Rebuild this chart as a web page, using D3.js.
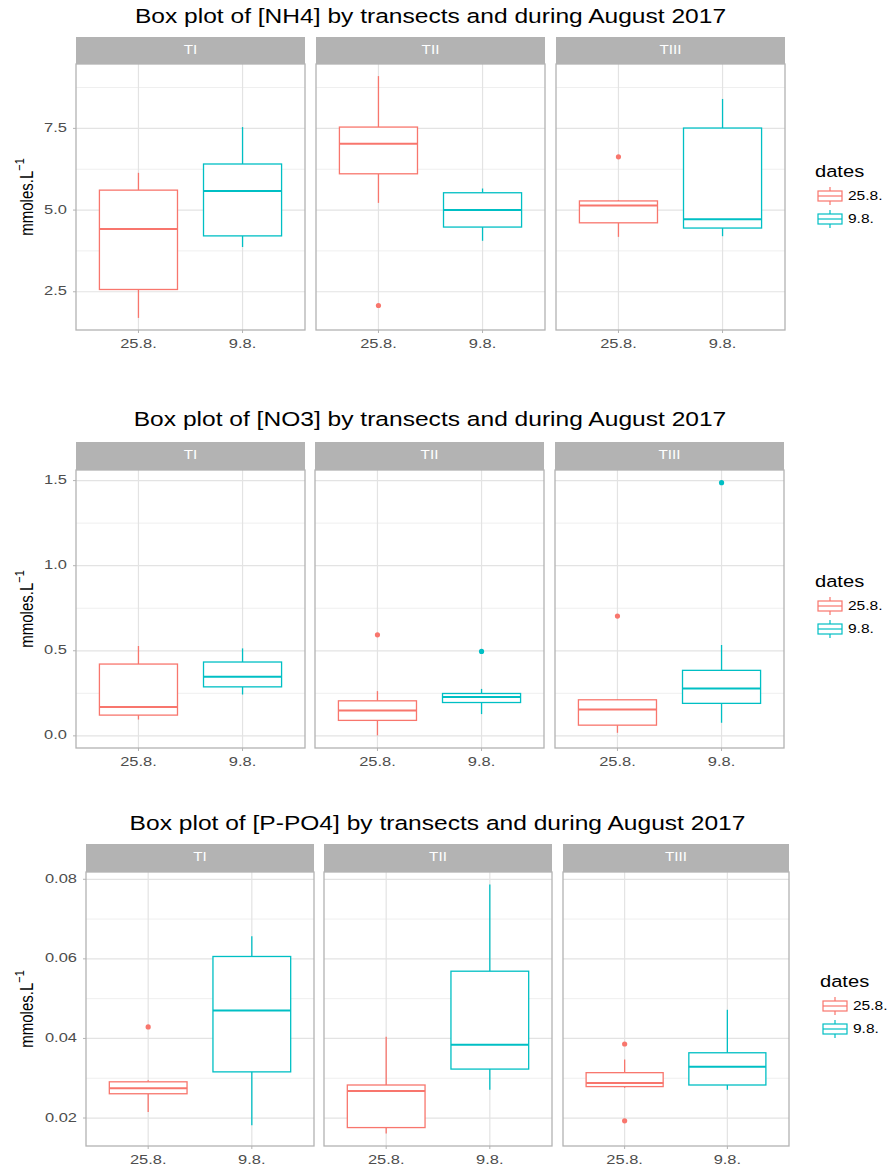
<!DOCTYPE html>
<html>
<head>
<meta charset="utf-8">
<script src="https://cdn.jsdelivr.net/npm/d3@7"></script>
<style>
  body { margin: 0; background: #fff; }
  text { font-family: "Liberation Sans", Arial, sans-serif; }
</style>
</head>
<body>
<script>
const transects = ["TI", "TII", "TIII"];
const dates = ["25.8.", "9.8."];
const colors = ["#F8766D", "#00BFC4"];

// [transect, date, whiskerLow, q1, median, q3, whiskerHigh, outliers]
const nh4Stats = [
  ["TI", "25.8.", 1.70, 2.57, 4.42, 5.61, 6.14, []],
  ["TI", "9.8.", 3.87, 4.21, 5.58, 6.41, 7.54, []],
  ["TII", "25.8.", 5.22, 6.11, 7.03, 7.54, 9.10, [2.08]],
  ["TII", "9.8.", 4.06, 4.48, 5.00, 5.53, 5.66, []],
  ["TIII", "25.8.", 4.18, 4.61, 5.14, 5.28, 5.31, [6.63]],
  ["TIII", "9.8.", 4.20, 4.45, 4.72, 7.51, 8.40, []]
];
const no3Stats = [
  ["TI", "25.8.", 0.096, 0.122, 0.169, 0.422, 0.528, []],
  ["TI", "9.8.", 0.243, 0.288, 0.347, 0.434, 0.514, []],
  ["TII", "25.8.", 0.003, 0.091, 0.149, 0.206, 0.263, [0.594]],
  ["TII", "9.8.", 0.128, 0.196, 0.229, 0.249, 0.276, [0.496]],
  ["TIII", "25.8.", 0.018, 0.063, 0.155, 0.212, 0.216, [0.704]],
  ["TIII", "9.8.", 0.077, 0.191, 0.279, 0.385, 0.534, [1.488]]
];
const po4Stats = [
  ["TI", "25.8.", 0.0215, 0.0261, 0.0275, 0.0291, 0.0295, [0.0429]],
  ["TI", "9.8.", 0.0182, 0.0316, 0.0470, 0.0606, 0.0657, []],
  ["TII", "25.8.", 0.0161, 0.0176, 0.0268, 0.0283, 0.0404, []],
  ["TII", "9.8.", 0.0271, 0.0323, 0.0384, 0.0569, 0.0787, []],
  ["TIII", "25.8.", 0.0276, 0.0279, 0.0288, 0.0314, 0.0347, [0.0386, 0.0193]],
  ["TIII", "9.8.", 0.0271, 0.0283, 0.0329, 0.0364, 0.0472, []]
];

const nh4Ticks = [2.5, 5.0, 7.5];
const no3Ticks = [0.0, 0.5, 1.0, 1.5];
const po4Ticks = [0.02, 0.04, 0.06, 0.08];

const charts = [
  { title: "Box plot of [NH4] by transects and during August 2017", stats: nh4Stats, ticks: nh4Ticks, fmt: d3.format(".1f"),
    titleY: 18, stripTop: 37, top: 64, bottom: 330,
    panels: [[76, 305], [316, 545], [556, 785]], legX: 815, legY: 173 },
  { title: "Box plot of [NO3] by transects and during August 2017", stats: no3Stats, ticks: no3Ticks, fmt: d3.format(".1f"),
    titleY: 421, stripTop: 442, top: 470, bottom: 748,
    panels: [[76, 305], [315, 544], [555, 784]], legX: 815, legY: 583 },
  { title: "Box plot of [P-PO4] by transects and during August 2017", stats: po4Stats, ticks: po4Ticks, fmt: d3.format(".2f"),
    titleY: 825, stripTop: 844, top: 872, bottom: 1146,
    panels: [[86, 314], [324, 552], [563, 789]], legX: 820, legY: 983 }
];

const svg = d3.select("body").append("svg")
  .attr("width", 888).attr("height", 1171);

// the source picture is stretched sideways, so text is widened a bit
function label(sel, x, y, str, size, opts = {}) {
  const sc = opts.rotate ? `rotate(-90) scale(1,${opts.sx || 1.2})` : `scale(${opts.sx || 1.22},1)`;
  return sel.append("text")
    .attr("transform", `translate(${x},${y}) ${sc}`)
    .attr("text-anchor", opts.anchor || "middle")
    .attr("dominant-baseline", "middle")
    .style("font-size", size + "px")
    .style("fill", opts.fill || "#000")
    .text(str);
}

charts.forEach(c => drawChart(c));

function drawChart(c) {
  const g = svg.append("g");
  const lo = d3.min(c.stats, d => d3.min([d[2], ...d[7]]));
  const hi = d3.max(c.stats, d => d3.max([d[6], ...d[7]]));
  const pad = (hi - lo) * 0.05;
  const y = d3.scaleLinear().domain([lo - pad, hi + pad]).range([c.bottom, c.top]);
  const step = c.ticks[1] - c.ticks[0];
  const minor = [c.ticks[0] - step / 2, ...c.ticks.map(t => t + step / 2)];

  const left = c.panels[0][0], right = c.panels[2][1];

  // title
  label(g, (left + right) / 2, c.titleY, c.title, 19.5, { sx: 1.26 });

  // y axis title, rotated
  const yt = label(g, 28, (c.top + c.bottom) / 2, "mmoles.L", 15, { rotate: true, sx: 1.22 });
  yt.append("tspan").attr("dy", -6).style("font-size", "11px").text("−1");

  // y ticks
  c.ticks.forEach(t => {
    if (y(t) < c.top || y(t) > c.bottom) return;
    label(g, left - 9, y(t), c.fmt(t), 13.5, { anchor: "end", fill: "#4D4D4D" });
    g.append("line").attr("x1", left - 3).attr("x2", left).attr("y1", y(t)).attr("y2", y(t))
      .style("stroke", "#B3B3B3");
  });

  transects.forEach((tr, i) => {
    const [x0, x1] = c.panels[i];
    const x = d3.scalePoint().domain(dates).range([x0, x1]).padding(0.6);
    const bw = x.step() * 0.75;
    const p = g.append("g");

    // strip
    p.append("rect").attr("x", x0).attr("y", c.stripTop).attr("width", x1 - x0).attr("height", c.top - c.stripTop)
      .style("fill", "#B3B3B3");
    label(p, (x0 + x1) / 2, (c.stripTop + c.top) / 2, tr, 12.5, { fill: "#fff" });

    // grid
    p.selectAll("line.minor").data(minor.filter(v => y(v) > c.top && y(v) < c.bottom)).join("line")
      .attr("class", "minor").attr("x1", x0).attr("x2", x1).attr("y1", d => y(d)).attr("y2", d => y(d))
      .style("stroke", "#EFEFEF").style("stroke-width", 1);
    p.selectAll("line.major").data(c.ticks.filter(v => y(v) > c.top && y(v) < c.bottom)).join("line")
      .attr("class", "major").attr("x1", x0).attr("x2", x1).attr("y1", d => y(d)).attr("y2", d => y(d))
      .style("stroke", "#E3E3E3").style("stroke-width", 1.2);
    p.selectAll("line.vgrid").data(dates).join("line")
      .attr("class", "vgrid").attr("x1", d => x(d)).attr("x2", d => x(d)).attr("y1", c.top).attr("y2", c.bottom)
      .style("stroke", "#E3E3E3").style("stroke-width", 1.2);

    // boxes
    c.stats.filter(d => d[0] === tr).forEach(d => {
      const cx = x(d[1]);
      const col = colors[dates.indexOf(d[1])];
      const b = p.append("g").style("stroke", col).style("fill", "none");
      b.append("line").attr("x1", cx).attr("x2", cx).attr("y1", y(d[6])).attr("y2", y(d[5])).style("stroke-width", 1.3);
      b.append("line").attr("x1", cx).attr("x2", cx).attr("y1", y(d[3])).attr("y2", y(d[2])).style("stroke-width", 1.3);
      b.append("rect").attr("x", cx - bw / 2).attr("y", y(d[5])).attr("width", bw).attr("height", y(d[3]) - y(d[5]))
        .style("fill", "#fff").style("stroke-width", 1.3);
      b.append("line").attr("x1", cx - bw / 2).attr("x2", cx + bw / 2).attr("y1", y(d[4])).attr("y2", y(d[4]))
        .style("stroke-width", 2);
      p.selectAll(null).data(d[7]).join("circle")
        .attr("cx", cx).attr("cy", v => y(v)).attr("r", 2.6).style("fill", col);
    });

    // border
    p.append("rect").attr("x", x0).attr("y", c.top).attr("width", x1 - x0).attr("height", c.bottom - c.top)
      .style("fill", "none").style("stroke", "#B3B3B3").style("stroke-width", 1.3);

    // x ticks
    dates.forEach(dt => {
      p.append("line").attr("x1", x(dt)).attr("x2", x(dt)).attr("y1", c.bottom).attr("y2", c.bottom + 3)
        .style("stroke", "#B3B3B3");
      label(p, x(dt), c.bottom + 14, dt, 13.5, { fill: "#4D4D4D" });
    });
  });

  // legend
  const lg = g.append("g");
  label(lg, c.legX, c.legY, "dates", 16.5, { anchor: "start" });
  dates.forEach((dt, k) => {
    const ky = c.legY + 23 + k * 23;
    const kx = c.legX + 3;
    const kg = lg.append("g").style("stroke", colors[k]).style("fill", "none").style("stroke-width", 1.2);
    kg.append("line").attr("x1", kx + 12).attr("x2", kx + 12).attr("y1", ky - 9).attr("y2", ky + 9);
    kg.append("rect").attr("x", kx).attr("y", ky - 5).attr("width", 24).attr("height", 10).style("fill", "#fff");
    kg.append("line").attr("x1", kx).attr("x2", kx + 24).attr("y1", ky).attr("y2", ky);
    label(lg, kx + 30, ky, dt, 13.5, { anchor: "start", sx: 1.15 });
  });
}
</script>
</body>
</html>
